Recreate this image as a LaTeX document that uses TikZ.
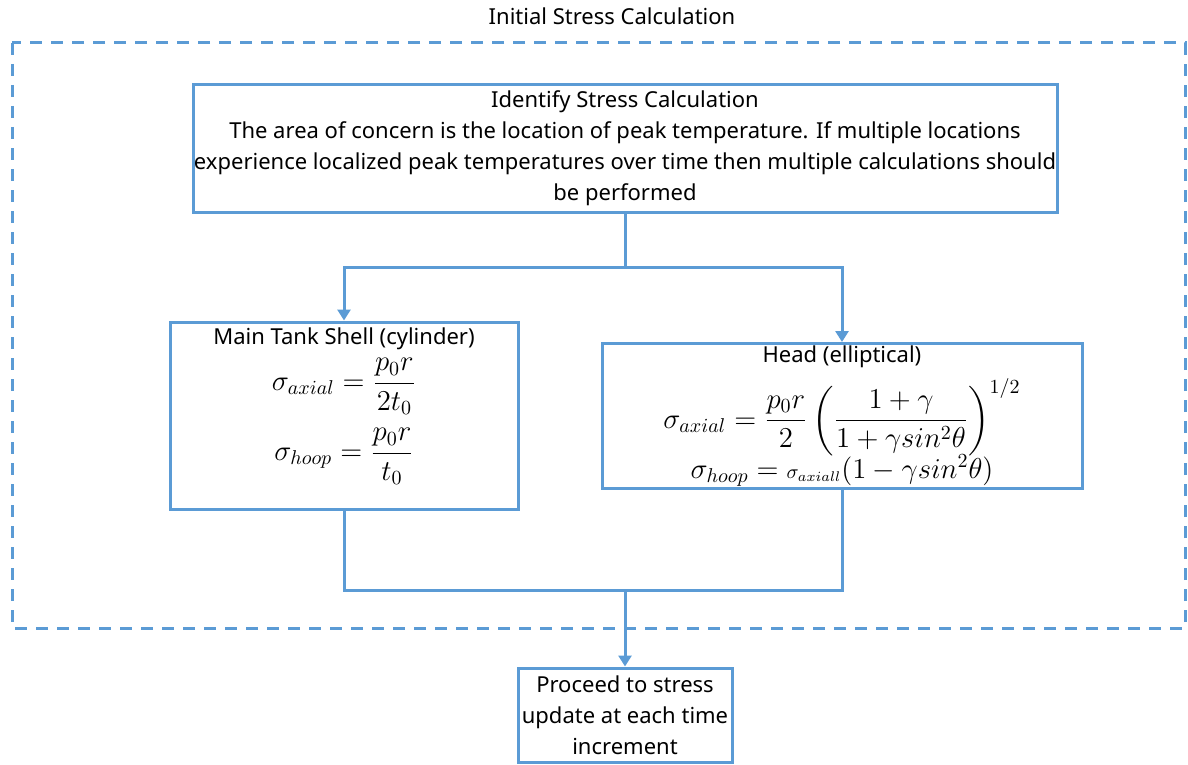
\documentclass[tikz,border=0pt]{standalone}
\usepackage{amsmath}
\usepackage{amssymb}
\usepackage{fontspec}
\setmainfont{Noto Sans}
\usepackage{xcolor}
\usetikzlibrary{arrows.meta}
\definecolor{flowblue}{RGB}{91,155,213}
\newcommand{\eqsize}{\fontsize{14.5}{16}\selectfont}

\begin{document}
\begin{tikzpicture}[x=0.5pt,y=-0.5pt,
  box/.style={draw=flowblue,line width=1.5pt,align=center,inner sep=0pt,font=\fontsize{11}{15.5}\selectfont},
  link/.style={draw=flowblue,line width=1.5pt},
  arr/.style={link,-{Triangle[length=5.5pt,width=6.5pt]}}]
\useasboundingbox (0,0) rectangle (1188,765);
% outer frame
\draw[flowblue,line width=1.5pt,dash pattern=on 6pt off 4.5pt] (12,43) rectangle (1185,628);
\node[font=\fontsize{11}{13}\selectfont] (title) at (612,16) {Initial Stress Calculation};
% boxes
\node[box,minimum width=432pt,minimum height=63.5pt] (ident) at (625,148.5) {Identify Stress Calculation\\The area of concern is the location of peak temperature. If multiple locations\\experience localized peak temperatures over time then multiple calculations should\\be performed};
\node[box,minimum width=174pt,minimum height=93.5pt] (shell) at (344,415.5) {Main Tank Shell (cylinder)\\[3.5pt]
  {\eqsize$\displaystyle\sigma_{axial}=\frac{p_0r}{2t_0}$}\\[6pt]
  {\eqsize$\displaystyle\sigma_{hoop}=\frac{p_0r}{t_0}$}\\[6pt]};
\node[box,minimum width=240pt,minimum height=72.5pt] (head) at (842,416) {Head (elliptical)\\[4.5pt]
  {\eqsize$\displaystyle\sigma_{axial}=\frac{p_0r}{2}\left(\frac{1+\gamma}{1+\gamma sin^2\theta}\right)^{1/2}$}\\[-1.5pt]
  {\eqsize$\sigma_{hoop}={\scriptstyle\sigma_{axiall}}(1-\gamma sin^2\theta)$}};
\node[box,minimum width=107pt,minimum height=47pt] (next) at (625,715) {Proceed to stress\\update at each time\\increment};
% connectors
\coordinate (split) at (625,267);
\coordinate (merge) at (625,590);
\draw[link] (ident.south) -- (split);
\draw[arr] (split) -| (shell.north);
\draw[arr] (split) -| (head.north);
\draw[link] (shell.south) |- (merge);
\draw[link] (head.south) |- (merge);
\draw[arr] (merge) -- (next.north);
\end{tikzpicture}
\end{document}
